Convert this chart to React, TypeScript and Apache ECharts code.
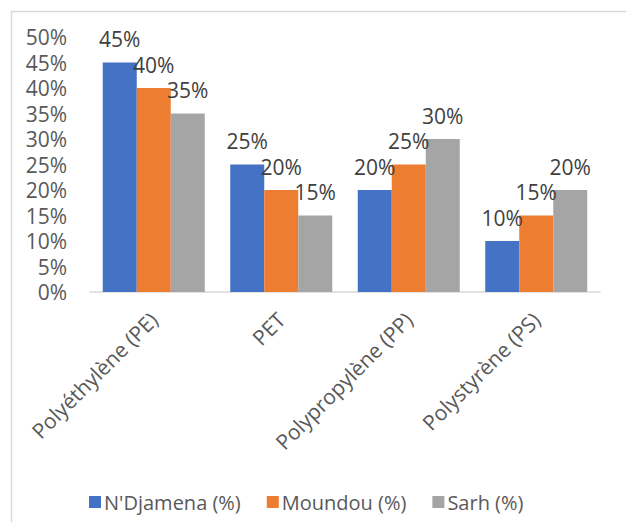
import React, { useEffect, useRef } from "react";
import * as echarts from "echarts";

const categories = ["Polyéthylène (PE)", "PET", "Polypropylène (PP)", "Polystyrène (PS)"];
const seriesNames = ["N'Djamena (%)", "Moundou (%)", "Sarh (%)"];
const ndjamena = [45, 25, 20, 10];
const moundou = [40, 20, 25, 15];
const sarh = [35, 15, 30, 20];
const colors = ["#4472C4", "#ED7D31", "#A5A5A5"];

const FONT = "Open Sans";

export default function App() {
  const ref = useRef<HTMLDivElement>(null);
  useEffect(() => {
    if (!ref.current) return;
    const chart = echarts.init(ref.current, null, { renderer: "svg" });
    const data = [ndjamena, moundou, sarh];
    chart.setOption({
      animation: false,
      textStyle: { fontFamily: FONT },
      graphic: [
        {
          type: "rect",
          left: 1,
          top: 1,
          shape: { x: 0, y: 0, width: 700, height: 600 },
          style: { fill: "none", stroke: "#d9d9d9", lineWidth: 1.5 },
          silent: true,
        },
      ],
      grid: { left: 82, right: 26, top: 29, bottom: 230, containLabel: false },
      legend: {
        top: 479,
        left: 76,
        itemWidth: 12,
        itemHeight: 12,
        itemGap: 26,
        icon: "rect",
        textStyle: { fontFamily: FONT, fontSize: 20, color: "#595959", padding: [0, 0, 0, -2] },
        data: seriesNames,
      },
      xAxis: {
        type: "category",
        data: categories,
        axisLine: { lineStyle: { color: "#d9d9d9", width: 1.5 } },
        axisTick: { show: false },
        axisLabel: {
          rotate: 45,
          interval: 0,
          margin: 24,
          fontFamily: FONT,
          fontSize: 21,
          color: "#595959",
        },
      },
      yAxis: {
        type: "value",
        min: 0,
        max: 50,
        interval: 5,
        splitLine: { show: false },
        axisLine: { show: false },
        axisTick: { show: false },
        axisLabel: {
          formatter: "{value}%",
          margin: 23,
          fontFamily: FONT,
          fontSize: 21,
          color: "#595959",
        },
      },
      series: seriesNames.map((name, i) => ({
        name,
        type: "bar",
        data: data[i],
        barGap: "0%",
        barCategoryGap: "20%",
        itemStyle: { color: colors[i] },
        label: {
          show: true,
          position: "top",
          distance: 13,
          formatter: "{c}%",
          fontFamily: FONT,
          fontSize: 21,
          color: "#404040",
        },
      })),
    });
    return () => chart.dispose();
  }, []);
  return <div ref={ref} style={{ width: 618, height: 514 }} />;
}
